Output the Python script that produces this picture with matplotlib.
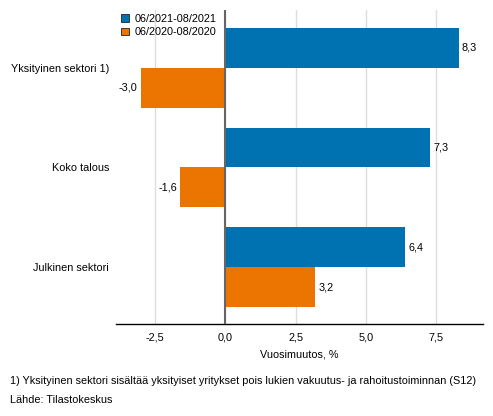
import matplotlib.pyplot as plt

plt.rcParams['font.family'] = ['Liberation Sans', 'DejaVu Sans']

categories = ['Yksityinen sektori 1)', 'Koko talous', 'Julkinen sektori']
series_names = ['06/2021-08/2021', '06/2020-08/2020']
vals_2021 = [8.3, 7.3, 6.4]
vals_2020 = [-3.0, -1.6, 3.2]
xticks = [-2.5, 0.0, 2.5, 5.0, 7.5]
colors = ['#0072b1', '#eb7500']
fs = 7.85

def fi(v):
    return f'{v:.1f}'.replace('.', ',')

fig = plt.figure(figsize=(4.93, 4.16), dpi=100)
# axes in pixel terms: left 116, right 483, top 10, bottom 324
ax = fig.add_axes([116/493, 1 - 324/416, (483-116)/493, (324-10)/416])

pos = list(range(len(categories)))
h = 0.4
b1 = ax.barh([p - h/2 for p in pos], vals_2021, height=h, color=colors[0], label=series_names[0], zorder=2)
b2 = ax.barh([p + h/2 for p in pos], vals_2020, height=h, color=colors[1], label=series_names[1], zorder=2)

for bars, vals in ((b1, vals_2021), (b2, vals_2020)):
    for r, v in zip(bars, vals):
        y = r.get_y() + r.get_height()/2
        if v >= 0:
            ax.text(v + 0.12, y, fi(v), va='center', ha='left', fontsize=fs)
        else:
            ax.text(v - 0.12, y, fi(v), va='center', ha='right', fontsize=fs)

ax.set_xlim(-3.89, 9.17)
ax.set_ylim(2.57, -0.58)
ax.set_yticks(pos)
ax.set_yticklabels(categories, fontsize=fs)
ax.set_xticks(xticks)
ax.set_xticklabels([fi(t) for t in xticks], fontsize=fs)
ax.tick_params(axis='y', length=0, pad=5)
ax.tick_params(axis='x', length=0, pad=6)
ax.grid(axis='x', color='#dddddd', linewidth=1, zorder=0)
ax.axvline(0, color='#666666', linewidth=1.5, zorder=3)
for s in ['top', 'right', 'left']:
    ax.spines[s].set_visible(False)
ax.spines['bottom'].set_linewidth(1)
ax.set_xlabel('Vuosimuutos, %', fontsize=fs, labelpad=5)

leg = fig.legend(loc='upper left', bbox_to_anchor=(121/493, 1 - 14/416), frameon=False,
                 fontsize=fs, handlelength=0.7, handleheight=0.7, handletextpad=0.55,
                 labelspacing=0.3, borderaxespad=0, borderpad=0)
for p in leg.get_patches():
    p.set_edgecolor('#222222')
    p.set_linewidth(0.6)

fig.text(10/493, 1 - 381/416, '1) Yksityinen sektori sisältää yksityiset yritykset pois lukien vakuutus- ja rahoitustoiminnan (S12)',
         fontsize=fs, va='center')
fig.text(10/493, 1 - 400/416, 'Lähde: Tilastokeskus', fontsize=fs, va='center')

fig.savefig('out.png', dpi=100)
